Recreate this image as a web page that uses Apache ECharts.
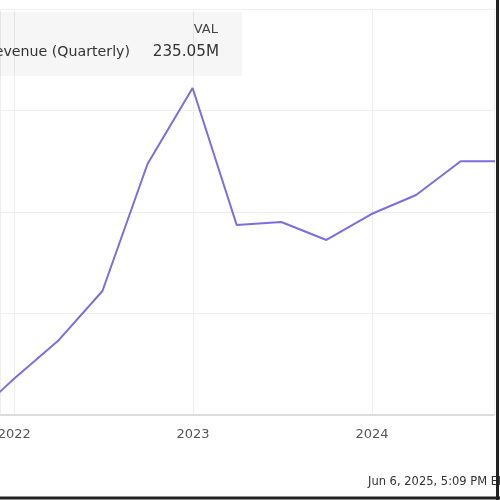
<!DOCTYPE html>
<html>
<head>
<meta charset="utf-8">
<script src="https://cdn.jsdelivr.net/npm/echarts@6/dist/echarts.min.js"></script>
<style>
html,body{margin:0;padding:0;background:#fff;}
#chart{width:500px;height:500px;}
</style>
</head>
<body>
<div id="chart"></div>
<script>
// Quarter-end dates and revenue (millions)
var dates = ['2021-09-30','2021-12-31','2022-03-31','2022-06-30','2022-09-30','2022-12-31',
             '2023-03-31','2023-06-30','2023-09-30','2023-12-31','2024-03-31','2024-06-30','2024-09-30'];
var revenue = [56, 84.8, 111.0, 145.5, 233.1, 285.5, 191.0, 193.1, 180.7, 198.6, 211.7, 235.05, 235.05];
var seriesName = 'Valaris Ltd Revenue (Quarterly)';
var tickerLabel = 'VAL';
var latestLabel = '235.05M';
var footerText = 'Jun 6, 2025, 5:09 PM EDT  Powered by YCHARTS';

var chart = echarts.init(document.getElementById('chart'));
var data = dates.map(function (d, i) { return [d, revenue[i]]; });
var FONT = '"DejaVu Sans", sans-serif';

chart.setOption({
  animation: false,
  backgroundColor: '#fff',
  grid: { left: 0, right: 6, top: 9, bottom: 85, containLabel: false, outerBoundsMode: 'none' },
  xAxis: {
    type: 'time',
    min: '2021-12-03',
    max: '2024-09-06',
    splitNumber: 2,
    minInterval: 365 * 24 * 3600 * 1000,
    axisLine: { show: true, lineStyle: { color: '#dcdcdc', width: 2 } },
    axisTick: { show: false },
    axisLabel: { formatter: '{yyyy}', color: '#555', fontSize: 13, fontFamily: FONT, margin: 13,
                 showMinLabel: false, showMaxLabel: false },
    splitLine: { show: true, lineStyle: { color: '#eeeeee', width: 1 } }
  },
  yAxis: {
    type: 'value',
    position: 'right',
    min: 60,
    max: 340,
    interval: 70,
    axisLine: { show: false },
    axisTick: { show: false },
    axisLabel: { show: false },
    splitLine: { show: true, lineStyle: { color: '#eeeeee', width: 1 } }
  },
  series: [{
    name: seriesName,
    type: 'line',
    data: data,
    showSymbol: false,
    clip: true,
    lineStyle: { color: '#7d6de0', width: 2 }
  }],
  graphic: [
    { type: 'rect', z: 1, shape: { x: -2, y: 12, width: 244, height: 64 },
      style: { fill: 'rgba(0,0,0,0.035)' } },
    { type: 'text', z: 2, x: 218, y: 30,
      style: { text: tickerLabel, align: 'right', verticalAlign: 'middle', fill: '#444', fontSize: 13, fontFamily: FONT } },
    { type: 'text', z: 2, x: 130, y: 52,
      style: { text: seriesName, align: 'right', verticalAlign: 'middle', fill: '#333', fontSize: 14.2, fontFamily: FONT } },
    { type: 'text', z: 2, x: 219, y: 52,
      style: { text: latestLabel, align: 'right', verticalAlign: 'middle', fill: '#333', fontSize: 15.2, fontFamily: FONT } },
    { type: 'text', z: 2, x: 368, y: 482,
      style: { text: footerText, align: 'left', verticalAlign: 'middle', fill: '#333', fontSize: 11.5, fontFamily: FONT } },
    { type: 'line', z: 3, shape: { x1: 497.5, y1: 0, x2: 497.5, y2: 500 }, style: { stroke: '#222', lineWidth: 3 } },
    { type: 'line', z: 3, shape: { x1: 0, y1: 498, x2: 500, y2: 498 }, style: { stroke: '#222', lineWidth: 3 } }
  ]
});
</script>
</body>
</html>
